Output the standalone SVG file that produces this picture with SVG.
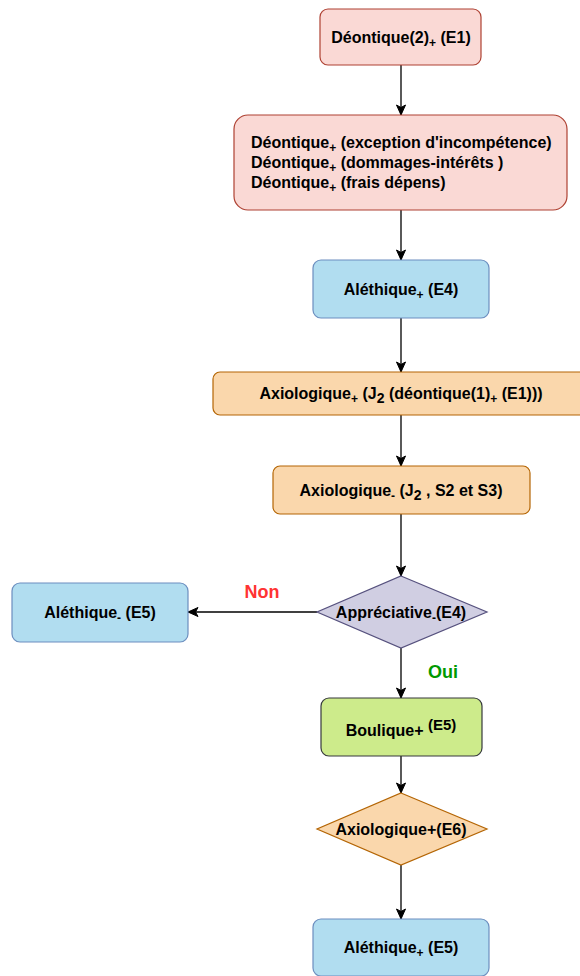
<svg xmlns="http://www.w3.org/2000/svg" width="580" height="976" viewBox="0 0 580 976">
<style>
text{font-family:"Liberation Sans",Arial,Helvetica,sans-serif;font-weight:bold;font-size:16px;fill:#000;}
.c{text-anchor:middle;}
.red{fill:#fad9d5;stroke:#ae4132;stroke-width:1.2;}
.blue{fill:#b1ddf0;stroke:#6c8ebf;stroke-width:1.2;}
.orange{fill:#fad7ac;stroke:#b46504;stroke-width:1.2;}
.purple{fill:#d0cee2;stroke:#56517e;stroke-width:1.2;}
.green{fill:#cdeb8b;stroke:#36393d;stroke-width:1.2;}
.edge{stroke:#000;stroke-width:1.3;fill:none;marker-end:url(#arr);}
.s{font-size:12px;}
</style>
<defs>
<marker id="arr" markerUnits="userSpaceOnUse" markerWidth="12" markerHeight="12" viewBox="0 0 12 12" refX="11" refY="6" orient="auto">
<path d="M1,1.5 L11,6 L1,10.5 L3.5,6 Z" fill="#000" stroke="#000" stroke-width="1"/>
</marker>
</defs>
<g id="connectors">
<path class="edge" d="M401,65 V115"/>
<path class="edge" d="M401,210 V260"/>
<path class="edge" d="M401,318 V372"/>
<path class="edge" d="M401,415 V466"/>
<path class="edge" d="M401,514 V576"/>
<path class="edge" d="M317,612 H188"/>
<path class="edge" d="M401,648 V698"/>
<path class="edge" d="M401,756 V793"/>
<path class="edge" d="M401,865 V919"/>
<text x="262" y="598" class="c" style="fill:#ff3333;font-size:18px">Non</text>
<text x="443" y="678" class="c" style="fill:#009900;font-size:18px">Oui</text>
</g>
<g id="n1">
<rect class="red" x="320" y="9" width="161" height="56" rx="8"/>
<text x="401" y="43" class="c">Déontique(2)<tspan class="s" dy="4">+</tspan><tspan dy="-4"> (E1)</tspan></text>
</g>
<g id="n2">
<rect class="red" x="234" y="115" width="333" height="95" rx="14"/>
<text x="251" y="148">Déontique<tspan class="s" dy="4">+</tspan><tspan dy="-4"> (exception d'incompétence)</tspan></text>
<text x="251" y="168">Déontique<tspan class="s" dy="4">+</tspan><tspan dy="-4"> (dommages-intérêts )</tspan></text>
<text x="251" y="188">Déontique<tspan class="s" dy="4">+</tspan><tspan dy="-4"> (frais dépens)</tspan></text>
</g>
<g id="n3">
<rect class="blue" x="313" y="260" width="176" height="58" rx="8"/>
<text x="401" y="295" class="c">Aléthique<tspan class="s" dy="4">+</tspan><tspan dy="-4"> (E4)</tspan></text>
</g>
<g id="n4">
<rect class="orange" x="213" y="372" width="376" height="43" rx="7"/>
<text x="401" y="399" class="c">Axiologique<tspan class="s" dy="4">+</tspan><tspan dy="-4"> (J</tspan><tspan style="font-size:14px" dy="4">2</tspan><tspan dy="-4"> (déontique(1)</tspan><tspan class="s" dy="4">+</tspan><tspan dy="-4"> (E1)))</tspan></text>
</g>
<g id="n5">
<rect class="orange" x="273" y="466" width="257" height="48" rx="7"/>
<text x="401" y="496" class="c">Axiologique<tspan class="s" dy="4">-</tspan><tspan dy="-4"> (J</tspan><tspan style="font-size:14px" dy="4">2</tspan><tspan dy="-4"> , S2 et S3)</tspan></text>
</g>
<g id="n6">
<path class="purple" d="M401,576 L487,612 L401,648 L317,612 Z"/>
<text x="401" y="618" class="c">Appréciative<tspan class="s" dy="4">-</tspan><tspan dy="-4">(E4)</tspan></text>
</g>
<g id="n7">
<rect class="blue" x="12" y="583" width="176" height="59" rx="8"/>
<text x="100" y="618" class="c">Aléthique<tspan class="s" dy="4">-</tspan><tspan dy="-4"> (E5)</tspan></text>
</g>
<g id="n8">
<rect class="green" x="321" y="698" width="161" height="58" rx="8"/>
<text x="401" y="736" class="c">Boulique+ <tspan dy="-6" style="font-size:15px">(E5)</tspan></text>
</g>
<g id="n9">
<path class="orange" d="M401,793 L487,829 L401,865 L317,829 Z"/>
<text x="401" y="835" class="c">Axiologique+(E6)</text>
</g>
<g id="n10">
<rect class="blue" x="313" y="919" width="176" height="57" rx="8"/>
<text x="401" y="953" class="c">Aléthique<tspan class="s" dy="4">+</tspan><tspan dy="-4"> (E5)</tspan></text>
</g>
</svg>
